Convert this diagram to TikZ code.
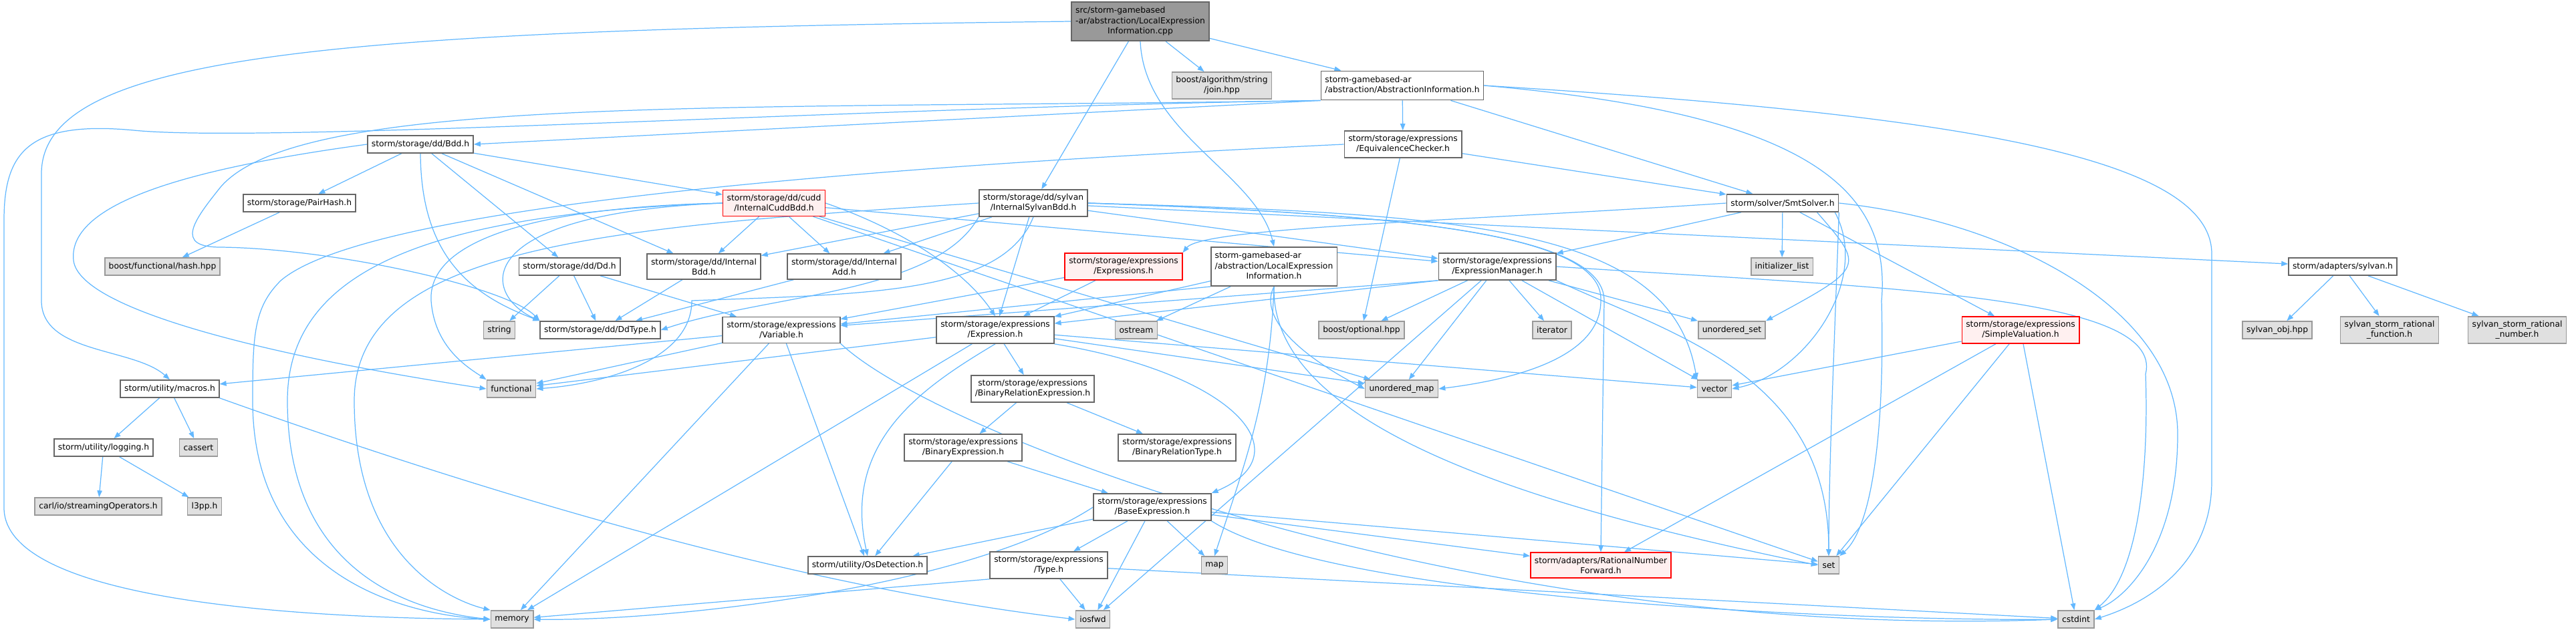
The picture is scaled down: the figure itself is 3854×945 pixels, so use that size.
\documentclass[tikz,border=0pt]{standalone}
\usepackage{fontspec}
\setmainfont{DejaVu Sans}
\usepackage{xcolor}
\usepackage{tikz}
\usetikzlibrary{arrows.meta,backgrounds}
\definecolor{edgeblue}{HTML}{63B8FF}
\definecolor{sysgray}{HTML}{E0E0E0}
\definecolor{sysline}{HTML}{999999}
\definecolor{hdrline}{HTML}{666666}
\definecolor{rootgray}{HTML}{999999}
\definecolor{cutfill}{HTML}{FFF0F0}
\definecolor{cutline}{HTML}{FF0000}

\tikzset{
  file/.style={draw=hdrline,fill=white,line width=0.45pt,inner xsep=0.06cm,
               inner ysep=0.065cm,minimum height=0.26cm,align=center,
               font=\fontsize{3.5}{4.3}\selectfont},
  hdr/.style={file},
  syshdr/.style={file,draw=sysline,fill=sysgray},
  cuthdr/.style={file,draw=cutline,fill=cutfill},
  rootfile/.style={file,fill=rootgray},
  dep/.style={draw=edgeblue,line width=0.35pt,
              -{Triangle[length=0.1cm,width=0.075cm]}},
}
\newcommand{\gblines}[2]{\begin{tabular}{@{}l@{}}#1\\\multicolumn{1}{@{}c@{}}{#2}\end{tabular}}

\begin{document}
\begin{tikzpicture}[x=0.01cm,y=-0.01cm]
  \useasboundingbox (0,0) rectangle (3854,945);

  \node[rootfile] (cpp) at (1706,32)
    {\gblines{src/storm-gamebased\\-ar/abstraction/LocalExpression}{Information.cpp}};
  \node[syshdr] (join) at (1828,128) {boost/algorithm/string\\/join.hpp};
  \node[hdr] (absinfo) at (2098,128)
    {\gblines{storm-gamebased-ar}{/abstraction/AbstractionInformation.h}};

  \node[hdr] (bdd) at (629,216) {storm/storage/dd/Bdd.h};
  \node[hdr] (eqchk) at (2099,216) {storm/storage/expressions\\/EquivalenceChecker.h};

  \node[hdr] (pairhash) at (448,304) {storm/storage/PairHash.h};
  \node[cuthdr] (cuddbdd) at (1158,304) {storm/storage/dd/cudd\\/InternalCuddBdd.h};
  \node[hdr] (sylvanbdd) at (1546,304) {storm/storage/dd/sylvan\\/InternalSylvanBdd.h};
  \node[hdr] (smt) at (2667,304) {storm/solver/SmtSolver.h};

  \node[syshdr] (hash) at (243,399) {boost/functional/hash.hpp};
  \node[hdr] (dd) at (852,399) {storm/storage/dd/Dd.h};
  \node[hdr] (intbdd) at (1053,399) {storm/storage/dd/Internal\\Bdd.h};
  \node[hdr] (intadd) at (1263,399) {storm/storage/dd/Internal\\Add.h};
  \node[cuthdr] (exprs) at (1681,399) {storm/storage/expressions\\/Expressions.h};
  \node[hdr] (localinfo) at (1906,399)
    {\gblines{storm-gamebased-ar\\/abstraction/LocalExpression}{Information.h}};
  \node[hdr] (exprmgr) at (2240,399) {storm/storage/expressions\\/ExpressionManager.h};
  \node[syshdr] (initlist) at (2666,399) {initializer\_list};
  \node[hdr] (sylvan) at (3505,399) {storm/adapters/sylvan.h};

  \node[syshdr] (string) at (747,494) {string};
  \node[hdr] (ddtype) at (898,494) {storm/storage/dd/DdType.h};
  \node[hdr] (variable) at (1169,494) {storm/storage/expressions\\/Variable.h};
  \node[hdr] (expr) at (1489,494) {storm/storage/expressions\\/Expression.h};
  \node[syshdr] (ostream) at (1700,494) {ostream};
  \node[syshdr] (optional) at (2037,494) {boost/optional.hpp};
  \node[syshdr] (iterator) at (2322,494) {iterator};
  \node[syshdr] (uset) at (2591,494) {unordered\_set};
  \node[cuthdr] (simpleval) at (3023,494) {storm/storage/expressions\\/SimpleValuation.h};
  \node[syshdr] (sylvanobj) at (3407,494) {sylvan\_obj.hpp};
  \node[syshdr] (srfunc) at (3575,494) {sylvan\_storm\_rational\\\_function.h};
  \node[syshdr] (srnum) at (3766,494) {sylvan\_storm\_rational\\\_number.h};

  \node[hdr] (macros) at (254,582) {storm/utility/macros.h};
  \node[syshdr] (functional) at (765,582) {functional};
  \node[hdr] (binrelexpr) at (1545,582) {storm/storage/expressions\\/BinaryRelationExpression.h};
  \node[syshdr] (umap) at (2097,582) {unordered\_map};
  \node[syshdr] (vector) at (2565,582) {vector};

  \node[hdr] (logging) at (155,670) {storm/utility/logging.h};
  \node[syshdr] (cassert) at (297,670) {cassert};
  \node[hdr] (binexpr) at (1441,670) {storm/storage/expressions\\/BinaryExpression.h};
  \node[hdr] (binreltype) at (1761,670) {storm/storage/expressions\\/BinaryRelationType.h};

  \node[syshdr] (carl) at (147,758) {carl/io/streamingOperators.h};
  \node[syshdr] (l3pp) at (306,758) {l3pp.h};
  \node[hdr] (baseexpr) at (1724,759) {storm/storage/expressions\\/BaseExpression.h};

  \node[hdr] (osdet) at (1298,846) {storm/utility/OsDetection.h};
  \node[hdr] (type) at (1569,846) {storm/storage/expressions\\/Type.h};
  \node[syshdr] (map) at (1817,846) {map};
  \node[cuthdr] (ratnum) at (2395,846) {storm/adapters/RationalNumber\\Forward.h};
  \node[syshdr] (set) at (2736,846) {set};

  \node[syshdr] (memory) at (766,927) {memory};
  \node[syshdr] (iosfwd) at (1635,927) {iosfwd};
  \node[syshdr] (cstdint) at (3106,927) {cstdint};

  \begin{scope}[on background layer]
    % the source file
    \draw[dep] (cpp) -- (join);
    \draw[dep] (cpp) -- (absinfo);
    \draw[dep] (cpp) -- (sylvanbdd);
    \draw[dep] (cpp.south) .. controls (1712,200) and (1880,260) .. (localinfo.north);
    \draw[dep] (cpp.west) .. controls (500,45) and (62,80) .. (62,260) -- (62,450)
      .. controls (62,530) and (200,520) .. (macros.north);

    % AbstractionInformation.h
    \draw[dep] (absinfo.south west) -- (bdd.east);
    \draw[dep] (absinfo) -- (eqchk);
    \draw[dep] (absinfo) -- (smt);
    \draw[dep] (absinfo.south west) .. controls (1300,160) and (400,215) .. (200,195)
      .. controls (40,180) and (6,230) .. (6,330) -- (6,760)
      .. controls (6,900) and (450,925) .. (memory.west);
    \draw[dep] (absinfo.south west) .. controls (1100,165) and (450,140) .. (330,280)
      .. controls (290,330) and (260,370) .. (330,370)
      .. controls (500,372) and (760,430) .. (ddtype.north west);
    \draw[dep] (absinfo.east) .. controls (2700,170) and (2830,280) .. (2815,450)
      .. controls (2820,650) and (2800,790) .. (set.north east);
    \draw[dep] (absinfo.east) .. controls (2900,170) and (3309,230) .. (3309,380)
      -- (3309,720) .. controls (3309,840) and (3220,900) .. (cstdint.east);

    \draw[dep] (eqchk) -- (smt);
    \draw[dep] (eqchk) -- (optional);
    \draw[dep] (eqchk.west) .. controls (1400,245) and (560,300) .. (420,420)
      .. controls (380,460) and (378,500) .. (378,600)
      .. controls (378,860) and (600,920) .. (memory.west);

    % dd headers
    \draw[dep] (bdd) -- (pairhash);
    \draw[dep] (bdd) -- (cuddbdd);
    \draw[dep] (bdd) -- (dd);
    \draw[dep] (bdd) -- (intbdd);
    \draw[dep] (bdd.south) .. controls (630,380) and (700,440) .. (ddtype.north west);
    \draw[dep] (bdd.west) .. controls (300,250) and (100,300) .. (110,390)
      .. controls (120,470) and (450,540) .. (functional.west);
    \draw[dep] (pairhash) -- (hash);

    \draw[dep] (cuddbdd) -- (intbdd);
    \draw[dep] (cuddbdd) -- (intadd);
    \draw[dep] (cuddbdd.west) .. controls (700,320) and (720,440) .. (ddtype.north west);
    \draw[dep] (cuddbdd.east) .. controls (1340,340) and (1440,400) .. (expr.north);
    \draw[dep] (cuddbdd) -- (exprmgr);
    \draw[dep] (cuddbdd) -- (umap);
    \draw[dep] (cuddbdd) -- (set);
    \draw[dep] (cuddbdd.west) .. controls (800,310) and (640,360) .. (645,450)
      .. controls (650,520) and (700,550) .. (functional.north west);
    \draw[dep] (cuddbdd.west) .. controls (650,320) and (430,400) .. (430,600)
      .. controls (430,860) and (620,915) .. (memory.west);

    \draw[dep] (sylvanbdd) -- (intbdd);
    \draw[dep] (sylvanbdd) -- (intadd);
    \draw[dep] (sylvanbdd) -- (sylvan);
    \draw[dep] (sylvanbdd.south west) .. controls (1400,440) and (1150,440) .. (ddtype.east);
    \draw[dep] (sylvanbdd) -- (expr);
    \draw[dep] (sylvanbdd) -- (exprmgr);
    \draw[dep] (sylvanbdd.east) .. controls (2200,320) and (2500,340) .. (vector.north west);
    \draw[dep] (sylvanbdd.west) .. controls (900,340) and (530,370) .. (530,600)
      .. controls (530,840) and (680,900) .. (memory.north west);
    \draw[dep] (sylvanbdd.south) .. controls (1500,440) and (1300,440) .. (1035,450)
      .. controls (1035,540) and (900,575) .. (functional.east);
    \draw[dep] (sylvanbdd.east) .. controls (2100,320) and (2400,350) .. (2395,450)
      .. controls (2395,540) and (2250,570) .. (umap.east);
    \draw[dep] (sylvanbdd.east) .. controls (2100,320) and (2400,350) .. (2400,450)
      -- (ratnum.north);

    \draw[dep] (dd) -- (string);
    \draw[dep] (dd) -- (ddtype);
    \draw[dep] (dd) -- (variable);
    \draw[dep] (intbdd) -- (ddtype);
    \draw[dep] (intadd) -- (ddtype);

    % expressions
    \draw[dep] (exprs) -- (expr);
    \draw[dep] (exprs) -- (variable);

    \draw[dep] (localinfo) -- (ostream);
    \draw[dep] (localinfo) -- (expr);
    \draw[dep] (localinfo.south west) -- (variable);
    \draw[dep] (localinfo.south) .. controls (1880,480) and (1960,540) .. (umap.west);
    \draw[dep] (localinfo.south) .. controls (1900,600) and (1860,700) .. (map.north);
    \draw[dep] (localinfo.south) .. controls (1900,640) and (2300,760) .. (set.west);

    \draw[dep] (exprmgr.south west) -- (expr);
    \draw[dep] (exprmgr.south west) -- (variable);
    \draw[dep] (exprmgr) -- (optional);
    \draw[dep] (exprmgr) -- (iterator);
    \draw[dep] (exprmgr) -- (uset);
    \draw[dep] (exprmgr) -- (vector);
    \draw[dep] (exprmgr) -- (umap);
    \draw[dep] (exprmgr) -- (iosfwd);
    \draw[dep] (exprmgr.south east) .. controls (2500,500) and (2736,560) .. (set.north);
    \draw[dep] (exprmgr.east) .. controls (2800,430) and (3240,440) .. (3210,560)
      .. controls (3215,700) and (3200,860) .. (cstdint.north east);

    % solver
    \draw[dep] (smt) -- (initlist);
    \draw[dep] (smt.-15) .. controls (2790,400) .. (uset.north east);
    \draw[dep] (smt) -- (exprmgr);
    \draw[dep] (smt.west) .. controls (2200,330) and (1800,340) .. (exprs.north east);
    \draw[dep] (smt) -- (simpleval);
    \draw[dep] (smt.-10) .. controls (2800,420) and (2700,560) .. (vector.east);
    \draw[dep] (smt.south east) .. controls (2745,500) and (2736,700) .. (set.north);
    \draw[dep] (smt.east) .. controls (3000,330) and (3258,460) .. (3258,650)
      .. controls (3258,820) and (3180,895) .. (cstdint.north east);

    \draw[dep] (simpleval) -- (vector);
    \draw[dep] (simpleval) -- (ratnum);
    \draw[dep] (simpleval) -- (set);
    \draw[dep] (simpleval) -- (cstdint);

    \draw[dep] (sylvan) -- (sylvanobj);
    \draw[dep] (sylvan) -- (srfunc);
    \draw[dep] (sylvan) -- (srnum);

    \draw[dep] (variable) -- (macros);
    \draw[dep] (variable) -- (functional);
    \draw[dep] (variable) -- (memory);
    \draw[dep] (variable) -- (osdet);
    \draw[dep] (variable.south east) .. controls (1400,650) and (2200,960) .. (cstdint.west);

    \draw[dep] (expr) -- (binrelexpr);
    \draw[dep] (expr) -- (functional);
    \draw[dep] (expr) -- (memory);
    \draw[dep] (expr) -- (umap);
    \draw[dep] (expr) -- (vector);
    \draw[dep] (expr.south east) .. controls (1850,560) and (1950,680) .. (baseexpr.north east);
    \draw[dep] (expr.south) .. controls (1380,580) and (1260,660) .. (osdet.north);

    \draw[dep] (binrelexpr) -- (binexpr);
    \draw[dep] (binrelexpr) -- (binreltype);
    \draw[dep] (binexpr) -- (baseexpr);
    \draw[dep] (binexpr) -- (osdet);

    \draw[dep] (baseexpr) -- (osdet);
    \draw[dep] (baseexpr) -- (type);
    \draw[dep] (baseexpr) -- (map);
    \draw[dep] (baseexpr) -- (iosfwd);
    \draw[dep] (baseexpr) -- (ratnum);
    \draw[dep] (baseexpr) -- (set);
    \draw[dep] (baseexpr.south east) .. controls (2000,900) and (2800,930) .. (cstdint.west);
    \draw[dep] (baseexpr.west) .. controls (1450,880) and (1000,930) .. (memory.east);

    \draw[dep] (type.south west) -- (memory);
    \draw[dep] (type) -- (iosfwd);
    \draw[dep] (type) -- (cstdint);

    % utility
    \draw[dep] (macros) -- (logging);
    \draw[dep] (macros) -- (cassert);
    \draw[dep] (macros.south east) .. controls (900,800) and (1300,890) .. (iosfwd.west);
    \draw[dep] (logging) -- (carl);
    \draw[dep] (logging) -- (l3pp);
  \end{scope}
\end{tikzpicture}
\end{document}
